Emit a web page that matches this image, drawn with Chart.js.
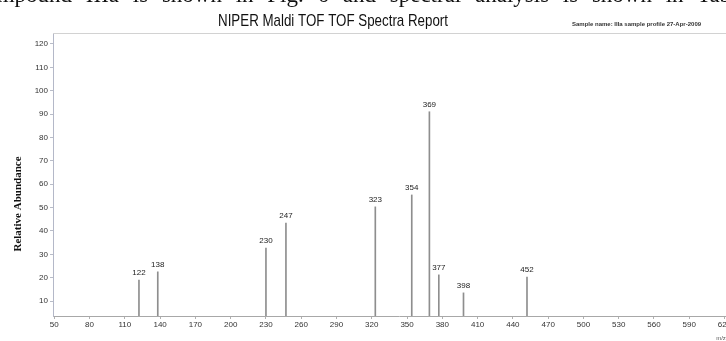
<!DOCTYPE html>
<html>
<head>
<meta charset="utf-8">
<script src="https://cdn.jsdelivr.net/npm/chart.js@4"></script>
<style>
  body { margin: 0; background: #fff; overflow: hidden; }
  #wrap { position: relative; width: 726px; height: 341px; overflow: hidden; background: #fff; }
  #caption { position: absolute; left: -25px; top: -18px; font: 23px "Liberation Serif", serif; word-spacing: 8px; white-space: nowrap; color: #111; }
  canvas { position: absolute; left: 0; top: 0; }
</style>
</head>
<body>
<div id="wrap">
  <canvas id="spectrum" width="745" height="341"></canvas>
  <div id="caption">compound IIIa is shown in Fig. 6 and spectral analysis is shown in Table</div>
</div>
<script>
// peaks: m/z and relative abundance (%)
const peakMz = [122, 138, 230, 247, 323, 354, 369, 377, 398, 452];
const peakAbundance = [19, 22.5, 32.7, 43.4, 50.3, 55.4, 91, 21.2, 13.5, 20.3];

const xTicks = [50, 80, 110, 140, 170, 200, 230, 260, 290, 320, 350, 380, 410, 440, 470, 500, 530, 560, 590, 620];
const yTicks = [10, 20, 30, 40, 50, 60, 70, 80, 90, 100, 110, 120];

const reportTitle = 'NIPER Maldi TOF TOF Spectra Report';
const sampleNote = 'Sample name: IIIa sample profile 27-Apr-2009';
const yTitle = 'Relative Abundance';

const sans = '"Liberation Sans", Arial, sans-serif';

// titles, header rule and the m/z label above each peak
const spectrumText = {
    id: 'spectrumText',
    afterDraw(chart) {
        const ctx = chart.ctx;
        const area = chart.chartArea;
        const x = chart.scales.x;
        const y = chart.scales.y;
        ctx.save();

        ctx.strokeStyle = '#d2d2d2';
        ctx.lineWidth = 1;
        ctx.beginPath();
        ctx.moveTo(area.left, 33.5);
        ctx.lineTo(area.right, 33.5);
        ctx.stroke();

        ctx.fillStyle = '#111';
        ctx.textAlign = 'center';
        ctx.textBaseline = 'alphabetic';
        ctx.font = '17px ' + sans;
        ctx.fillText(reportTitle, 333, 26, 230);

        ctx.fillStyle = '#333';
        ctx.textAlign = 'left';
        ctx.font = 'bold 6px ' + sans;
        ctx.fillText(sampleNote, 572, 26, 138);

        ctx.save();
        ctx.translate(18, 204);
        ctx.rotate(-Math.PI / 2);
        ctx.textAlign = 'center';
        ctx.textBaseline = 'middle';
        ctx.fillStyle = '#111';
        ctx.font = 'bold 11px "Liberation Serif", serif';
        ctx.fillText(yTitle, 0, 0);
        ctx.restore();

        ctx.fillStyle = '#222';
        ctx.textAlign = 'center';
        ctx.font = '8px ' + sans;
        peakMz.forEach((mz, i) => {
            const px = x.getPixelForValue(mz);
            const py = y.getPixelForValue(peakAbundance[i]);
            ctx.fillText(String(mz), px, py - 5);
        });

        ctx.fillStyle = '#555';
        ctx.font = '6px ' + sans;
        ctx.fillText('m/z', 721, 340);

        ctx.restore();
    }
};

new Chart(document.getElementById('spectrum'), {
    type: 'bar',
    data: {
        datasets: [{
            data: peakMz.map((mz, i) => ({ x: mz, y: peakAbundance[i] })),
            backgroundColor: '#8e8e8e',
            barThickness: 1
        }]
    },
    options: {
        responsive: false,
        animation: false,
        layout: { padding: { top: 33, right: 0, bottom: 0, left: 0 } },
        plugins: {
            legend: { display: false },
            tooltip: { enabled: false }
        },
        scales: {
            x: {
                type: 'linear',
                offset: false,
                min: 48.9,
                max: 637.4,
                afterBuildTicks: scale => { scale.ticks = xTicks.map(v => ({ value: v })); },
                afterFit: scale => { scale.height = 25; },
                ticks: {
                    autoSkip: false,
                    maxRotation: 0,
                    padding: 1,
                    color: '#333',
                    font: { size: 8, family: sans }
                },
                grid: { offset: false, drawOnChartArea: false, tickLength: 3, color: '#b0b0b0' },
                border: { color: '#a8a8a8' }
            },
            y: {
                min: 3.6,
                max: 124.7,
                afterBuildTicks: scale => { scale.ticks = yTicks.map(v => ({ value: v })); },
                afterFit: scale => { scale.width = 53; },
                ticks: {
                    padding: 2,
                    color: '#333',
                    font: { size: 8, family: sans }
                },
                grid: { drawOnChartArea: false, tickLength: 3, color: '#b8bcc8' },
                border: { color: '#b4b8c8' }
            }
        }
    },
    plugins: [spectrumText]
});
</script>
</body>
</html>
